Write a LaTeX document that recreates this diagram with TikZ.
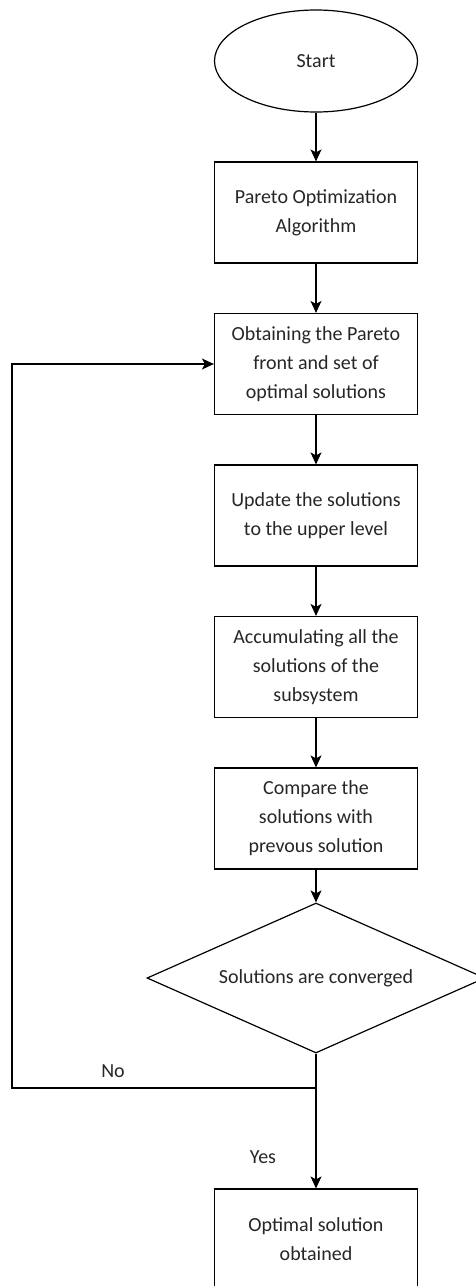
\documentclass[tikz,border=0pt]{standalone}
\usepackage{fontspec}
\setmainfont{Carlito}
\usetikzlibrary{shapes.geometric,arrows.meta}

\begin{document}
\begin{tikzpicture}[x=1pt,y=-1pt]
						\tikzstyle{box}=[rectangle,draw=black,line width=1.2pt,minimum width=203pt,minimum height=101pt,align=center,text=black!85,font=\fontsize{20}{29}\selectfont]
						\tikzstyle{arr}=[line width=1.2pt,-{Stealth[length=12pt,width=11pt,inset=3pt]}]
						\tikzstyle{lbl}=[text=black!85,font=\fontsize{20}{29}\selectfont]
						\useasboundingbox (0,0) rectangle (475,1286);
						\node[ellipse,draw=black,line width=1.2pt,minimum width=203pt,minimum height=102pt,lbl](start) at (316,61) {Start};
						\node[box](b1) at (316,212.5) {Pareto Optimization\\Algorithm};
						\node[box](b2) at (316,364) {Obtaining the Pareto\\front and set of\\optimal solutions};
						\node[box](b3) at (316,515.5) {Update the solutions\\to the upper level};
						\node[box](b4) at (316,667) {Accumulating all the\\solutions of the\\subsystem};
						\node[box](b5) at (316,818.5) {Compare the\\solutions with\\prevous solution};
						\node[diamond,aspect=2.25,inner sep=0pt,draw=black,line width=1.2pt,minimum width=338pt,minimum height=150pt,lbl](dec) at (316,978) {Solutions are converged};
						\node[box,minimum height=100pt](b6) at (316,1239) {Optimal solution\\obtained};
						\node[lbl](no) at (113,1071) {No};
						\node[lbl](yes) at (263,1157) {Yes};
						\coordinate (split) at (316,1088);
						\coordinate (back) at (12,1088);
						\draw[arr](start) -- (b1);
						\draw[arr](b1) -- (b2);
						\draw[arr](b2) -- (b3);
						\draw[arr](b3) -- (b4);
						\draw[arr](b4) -- (b5);
						\draw[arr](b5) -- (dec);
						\draw[arr](dec) -- (b6);
						\draw[arr](split) -- (back) |- (b2.west);
					\end{tikzpicture}
\end{document}
